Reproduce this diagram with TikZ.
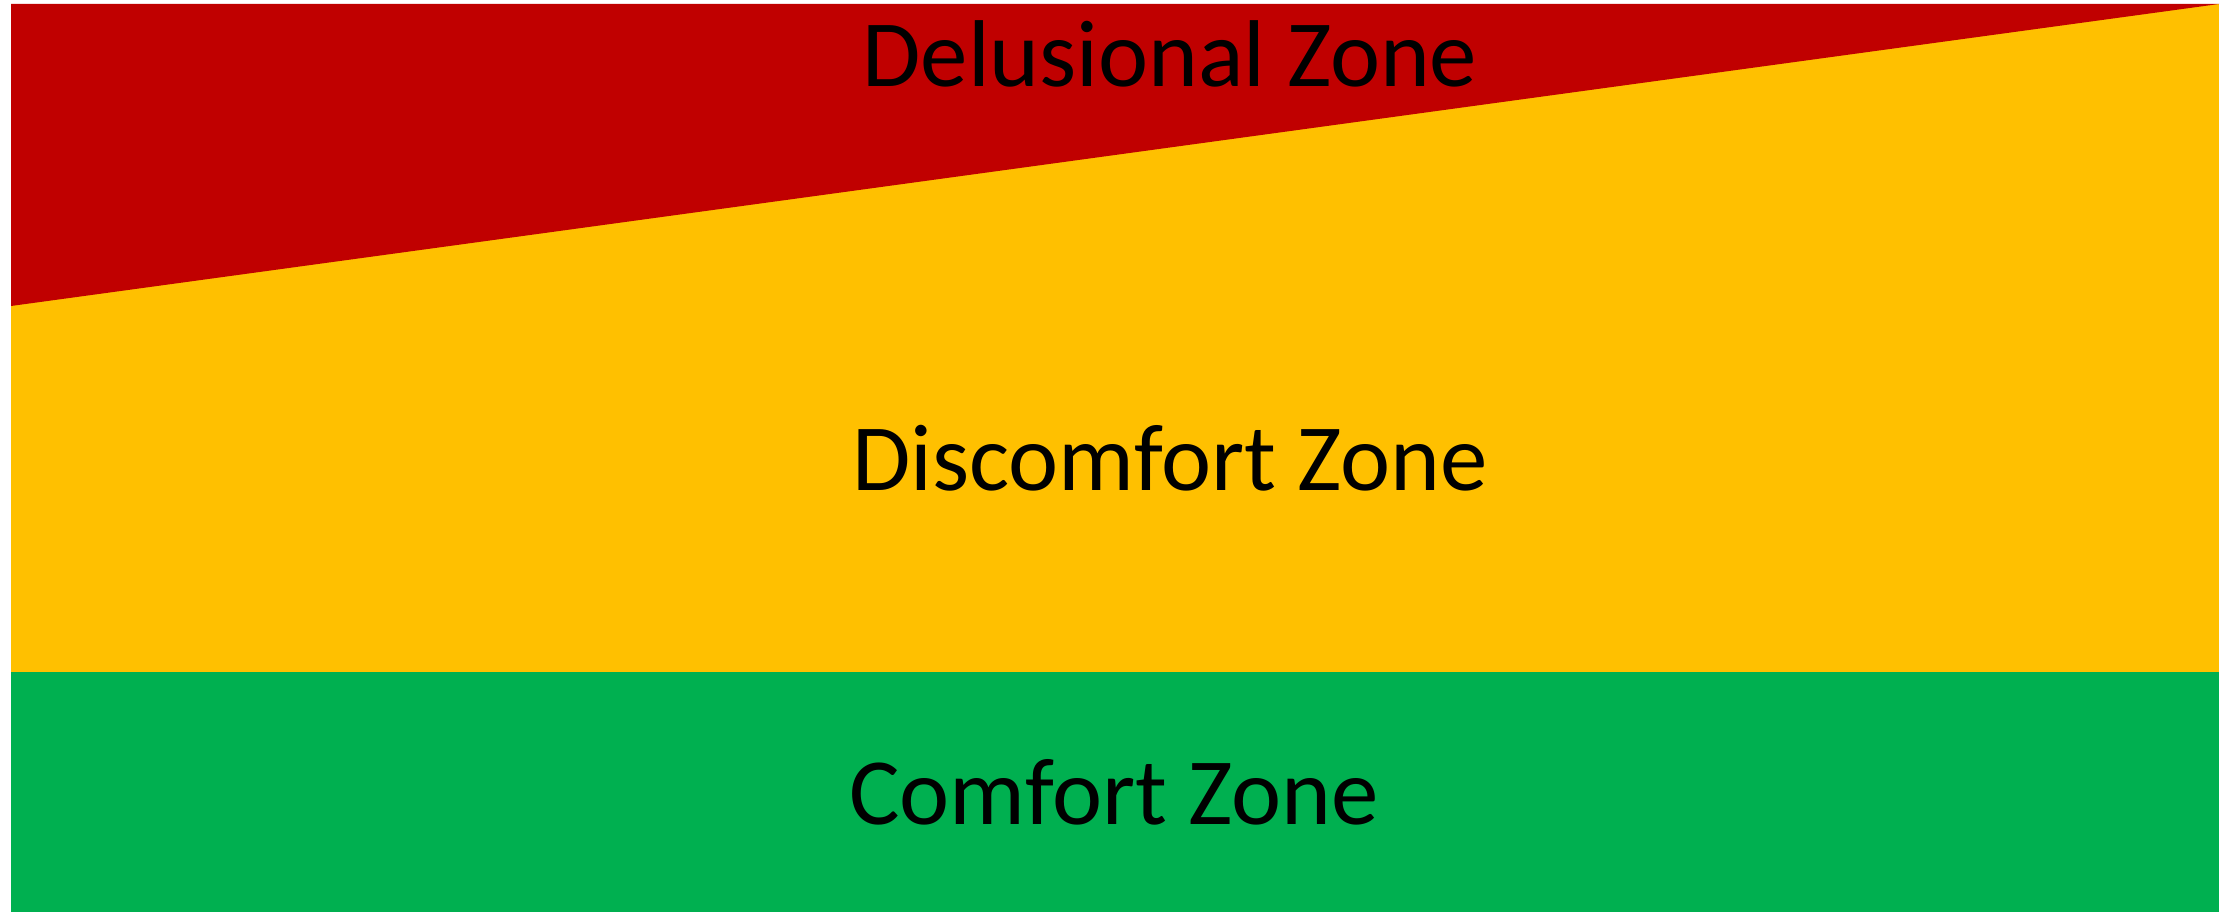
\documentclass[tikz,border=0pt]{standalone}
\usepackage{fontspec}
\setmainfont{Carlito}
\usepackage{tikz}
\usetikzlibrary{positioning}

\definecolor{zonered}{HTML}{C00000}
\definecolor{zoneyellow}{HTML}{FFC000}
\definecolor{zonegreen}{HTML}{00B050}

\begin{document}
\begin{tikzpicture}[zonetext/.style={anchor=base,inner sep=0pt,font=\fontsize{27}{31}\selectfont}]
\useasboundingbox (0,0) rectangle (22.34,9.12);
% the three zones
\fill[zoneyellow] (0.11,2.40) rectangle (22.19,9.08);
\fill[zonered] (0.11,9.08) -- (22.19,9.08) -- (0.11,6.06) -- cycle;
\fill[zonegreen] (0.11,0) rectangle (22.19,2.40);
% labels
\node[zonetext] (delusional) at (11.70,8.25) {Delusional Zone};
\node[zonetext] (discomfort) at (11.70,4.21) {Discomfort Zone};
\node[zonetext] (comfort) at (11.14,0.88) {Comfort Zone};
\end{tikzpicture}
\end{document}
